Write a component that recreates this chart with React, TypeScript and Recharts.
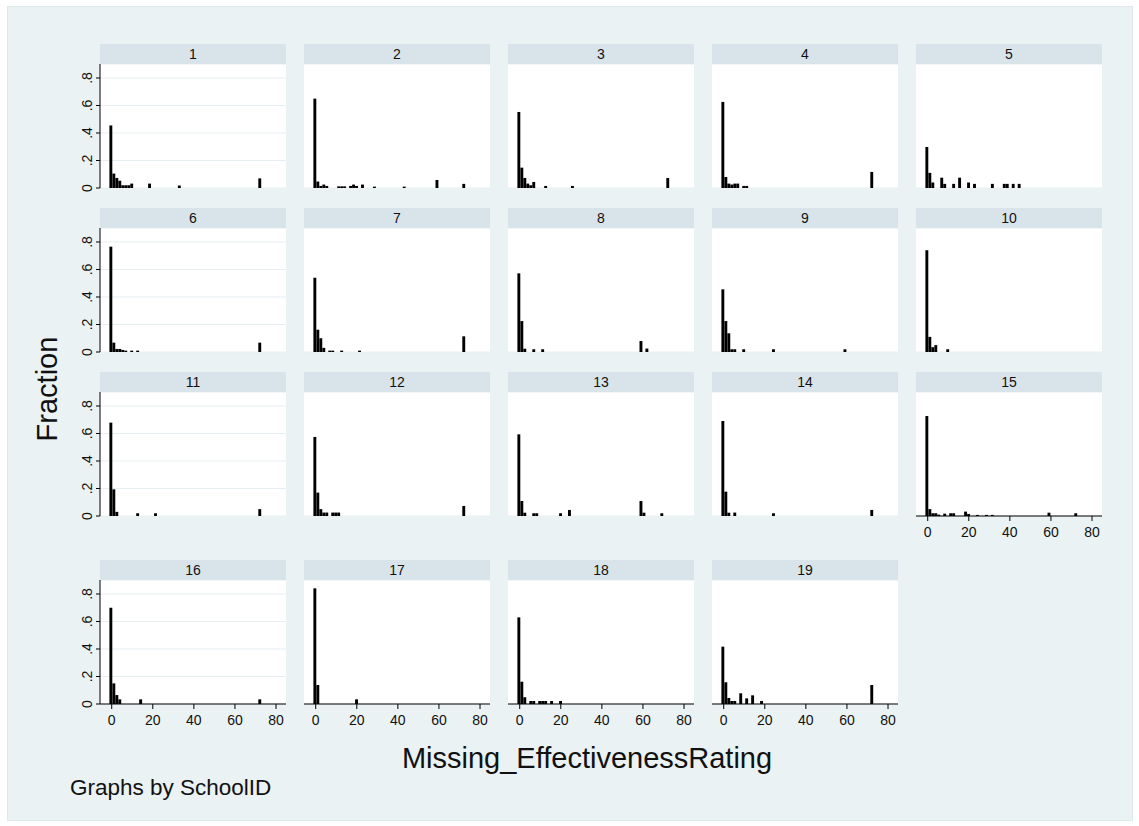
import React from 'react';
import { BarChart, Bar, XAxis, YAxis, CartesianGrid } from 'recharts';

// ---------- data (bin centre in rating units, fraction) ----------
const schoolIds = ['1', '2', '3', '4', '5', '6', '7', '8', '9', '10', '11', '12', '13', '14', '15', '16', '17', '18', '19'];
const xTicks = [0, 20, 40, 60, 80];
const yTicks = [0, 0.2, 0.4, 0.6, 0.8];
const yTickLabels = ['0', '.2', '.4', '.6', '.8'];

const school1 = [[-0.4, 0.455], [1.05, 0.105], [2.5, 0.073], [3.95, 0.053], [5.4, 0.02], [6.85, 0.02], [8.3, 0.02], [9.75, 0.032], [18.45, 0.032], [32.95, 0.018], [72.1, 0.07]];
const school2 = [[-0.4, 0.65], [1.05, 0.047], [2.5, 0.015], [3.95, 0.025], [5.4, 0.015], [11.2, 0.012], [12.65, 0.012], [14.1, 0.012], [17, 0.015], [18.45, 0.025], [19.9, 0.015], [22.8, 0.025], [28.6, 0.01], [43.1, 0.01], [59.05, 0.058], [72.1, 0.03]];
const school3 = [[-0.4, 0.553], [1.05, 0.148], [2.5, 0.073], [3.95, 0.032], [5.4, 0.02], [6.85, 0.044], [12.65, 0.015], [25.7, 0.015], [72.1, 0.073]];
const school4 = [[-0.4, 0.626], [1.05, 0.08], [2.5, 0.032], [3.95, 0.025], [5.4, 0.032], [6.85, 0.032], [9.75, 0.015], [11.2, 0.015], [72.1, 0.117]];
const school5 = [[-0.4, 0.298], [1.05, 0.11], [2.5, 0.04], [6.85, 0.075], [8.3, 0.03], [12.65, 0.03], [15.55, 0.075], [19.9, 0.04], [22.8, 0.03], [31.5, 0.03], [37.3, 0.03], [38.75, 0.03], [41.65, 0.03], [44.55, 0.03]];
const school6 = [[-0.4, 0.766], [1.05, 0.068], [2.5, 0.022], [3.95, 0.022], [5.4, 0.015], [6.85, 0.01], [9.75, 0.01], [12.65, 0.01], [72.1, 0.068]];
const school7 = [[-0.4, 0.54], [1.05, 0.162], [2.5, 0.1], [3.95, 0.03], [6.85, 0.01], [8.3, 0.01], [12.65, 0.01], [21.35, 0.01], [72.1, 0.114]];
const school8 = [[-0.4, 0.572], [1.05, 0.225], [2.5, 0.024], [6.85, 0.02], [11.2, 0.02], [59.05, 0.08], [61.95, 0.025]];
const school9 = [[-0.4, 0.456], [1.05, 0.225], [2.5, 0.136], [3.95, 0.02], [5.4, 0.02], [9.75, 0.02], [24.25, 0.02], [59.05, 0.02]];
const school10 = [[-0.4, 0.74], [1.05, 0.11], [2.5, 0.035], [3.95, 0.05], [9.75, 0.02]];
const school11 = [[-0.4, 0.679], [1.05, 0.194], [2.5, 0.03], [12.65, 0.02], [21.35, 0.02], [72.1, 0.05]];
const school12 = [[-0.4, 0.575], [1.05, 0.17], [2.5, 0.05], [3.95, 0.025], [5.4, 0.025], [8.3, 0.025], [9.75, 0.025], [11.2, 0.025], [72.1, 0.073]];
const school13 = [[-0.4, 0.594], [1.05, 0.109], [2.5, 0.024], [6.85, 0.02], [8.3, 0.02], [19.9, 0.02], [24.25, 0.044], [59.05, 0.109], [60.5, 0.024], [69.2, 0.02]];
const school14 = [[-0.4, 0.691], [1.05, 0.177], [2.5, 0.024], [5.4, 0.025], [24.25, 0.02], [72.1, 0.044]];
const school15 = [[-0.4, 0.727], [1.05, 0.05], [2.5, 0.02], [3.95, 0.02], [5.4, 0.01], [8.3, 0.017], [11.2, 0.02], [12.65, 0.02], [18.45, 0.032], [19.9, 0.015], [24.25, 0.008], [28.6, 0.008], [31.5, 0.008], [59.05, 0.024], [72.1, 0.02]];
const school16 = [[-0.4, 0.7], [1.05, 0.15], [2.5, 0.065], [3.95, 0.034], [14.1, 0.034], [72.1, 0.034]];
const school17 = [[-0.4, 0.841], [1.05, 0.138], [19.9, 0.034]];
const school18 = [[-0.4, 0.63], [1.05, 0.162], [2.5, 0.049], [5.4, 0.022], [6.85, 0.022], [9.75, 0.022], [11.2, 0.022], [12.65, 0.022], [15.55, 0.022], [19.9, 0.022]];
const school19 = [[-0.4, 0.417], [1.05, 0.158], [2.5, 0.044], [3.95, 0.022], [5.4, 0.022], [8.3, 0.078], [11.2, 0.041], [14.1, 0.063], [18.45, 0.022], [72.1, 0.138]];

const schools = [school1, school2, school3, school4, school5, school6, school7, school8, school9, school10, school11, school12, school13, school14, school15, school16, school17, school18, school19];

// ---------- layout ----------
const FONT = '"Liberation Sans", Arial, Helvetica, sans-serif';
const COL_LEFT = [100, 304, 508, 712, 916];
const ROW_TOP = [44, 208, 372, 560];
const PLOT_W = 186;
const PLOT_H = 124;
const HEADER_H = 20;
const Y_AXIS_W = 40;
const X_AXIS_H = 36;
const BOTTOM_PAD = 10;
const OUTER_BG = '#EAF2F3';
const STRIP_BG = '#D9E4EA';
const GRID = '#E6EEF1';

const YTick = (props: any) => {
  const { x, y, payload } = props;
  const i = yTicks.indexOf(payload.value);
  const label = i >= 0 ? yTickLabels[i] : String(payload.value);
  return (
    <text x={0} y={0} transform={`translate(${x},${y}) rotate(-90)`} textAnchor="middle" fontSize={14} fontFamily={FONT} fill="#111">
      {label}
    </text>
  );
};

const Panel = ({ idx }: { idx: number }) => {
  const r = Math.floor(idx / 5);
  const c = idx % 5;
  const hasX = idx >= 14;
  const showY = c === 0;
  const data = schools[idx].map(([x, y]) => ({ x, y }));
  const left = COL_LEFT[c];
  const top = ROW_TOP[r];
  return (
    <>
      <div
        style={{
          position: 'absolute',
          left,
          top,
          width: PLOT_W,
          height: HEADER_H,
          background: STRIP_BG,
          fontFamily: FONT,
          fontSize: 14,
          color: '#111',
          textAlign: 'center',
          lineHeight: `${HEADER_H}px`,
        }}
      >
        {schoolIds[idx]}
      </div>
      <div style={{ position: 'absolute', left: left - Y_AXIS_W, top: top + HEADER_H }}>
        <BarChart
          width={Y_AXIS_W + PLOT_W}
          height={PLOT_H + (hasX ? X_AXIS_H : BOTTOM_PAD)}
          data={data}
          margin={{ top: 0, right: 0, bottom: hasX ? 0 : BOTTOM_PAD, left: 0 }}
          barGap={0}
          barCategoryGap={0}
        >
          <CartesianGrid horizontal vertical={false} stroke={GRID} fill="#ffffff" />
          <XAxis
            dataKey="x"
            type="number"
            domain={[-5.7, 84.86]}
            ticks={xTicks}
            hide={!hasX}
            height={X_AXIS_H}
            axisLine={{ stroke: '#000', strokeWidth: 1 }}
            tickLine={{ stroke: '#000' }}
            tickSize={5}
            tickMargin={6}
            tick={{ fontSize: 14, fontFamily: FONT, fill: '#111' }}
            interval={0}
            allowDataOverflow
          />
          <YAxis
            type="number"
            domain={[0, 0.9018]}
            ticks={yTicks}
            width={Y_AXIS_W}
            axisLine={showY ? { stroke: '#000', strokeWidth: 1 } : false}
            tickLine={showY ? { stroke: '#000' } : false}
            tickSize={4}
            tickMargin={4}
            tick={showY ? <YTick /> : false}
            interval={0}
            allowDataOverflow
          />
          <Bar dataKey="y" fill="#000" barSize={2.9} isAnimationActive={false} />
        </BarChart>
      </div>
    </>
  );
};

export default function App() {
  return (
    <div style={{ position: 'absolute', left: 0, top: 0, width: 1139, height: 826, background: '#ffffff', overflow: 'hidden' }}>
      <div
        style={{
          position: 'absolute',
          left: 7,
          top: 6,
          width: 1124,
          height: 813,
          background: OUTER_BG,
          border: '1px solid #dfe8ea',
        }}
      />
      {schools.map((_, i) => (
        <Panel key={i} idx={i} />
      ))}
      <svg width={1139} height={826} style={{ position: 'absolute', left: 0, top: 0, pointerEvents: 'none' }}>
        <text transform="translate(57,389) rotate(-90)" textAnchor="middle" fontSize={29} fontFamily={FONT} fill="#111">
          Fraction
        </text>
        <text x={587} y={768} textAnchor="middle" fontSize={29} fontFamily={FONT} fill="#111">
          Missing_EffectivenessRating
        </text>
        <text x={70} y={795} fontSize={22.5} fontFamily={FONT} fill="#111">
          Graphs by SchoolID
        </text>
      </svg>
    </div>
  );
}
